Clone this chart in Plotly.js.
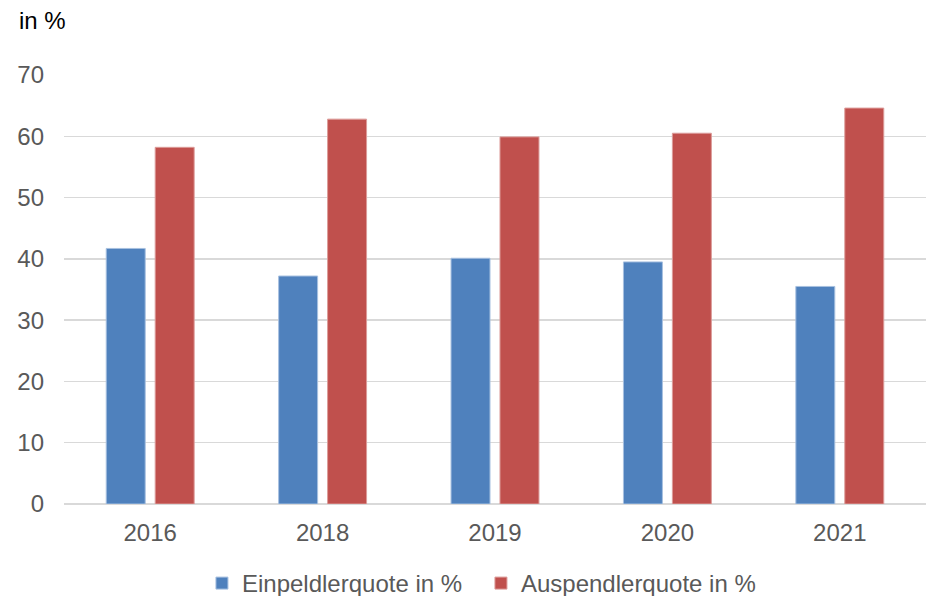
<!DOCTYPE html>
<html><head><meta charset="utf-8">
<script src="https://cdn.plot.ly/plotly-3.0.1.min.js"></script>
<style>body{margin:0;background:#fff}#c{width:926px;height:596px}</style>
</head><body><div id="c"></div>
<script>
const years = ['2016','2018','2019','2020','2021'];
const einpendler = [41.7, 37.2, 40.1, 39.5, 35.5];
const auspendler = [58.2, 62.8, 59.9, 60.5, 64.6];
const yTicks = [0,10,20,30,40,50,60,70];

const font = {family:'Liberation Sans, Arial, sans-serif', size:24, color:'#595959'};
const traces = [
  {type:'bar', x:years, y:einpendler, name:'Einpeldlerquote in %',
   marker:{color:'#4F81BD', line:{color:'#a7c0e0', width:1}}},
  {type:'bar', x:years, y:auspendler, name:'Auspendlerquote in %',
   marker:{color:'#C0504D', line:{color:'#dc9c9a', width:1}}}
];
const layout = {
  width:926, height:596,
  margin:{l:64, r:0, t:75, b:92, autoexpand:false},
  paper_bgcolor:'#fff', plot_bgcolor:'#fff',
  font:font,
  barmode:'group', bargap:0.432, bargroupgap:0.204,
  showlegend:true,
  legend:{orientation:'h', x:0.4837, xanchor:'center', yref:'container', y:0.021, yanchor:'middle', font:font,
          itemwidth:30, traceorder:'normal', entrywidth:234, entrywidthmode:'pixels'},
  xaxis:{type:'category', showgrid:false, showline:false, zeroline:false, ticks:'', tickfont:font, ticklabelstandoff:12, automargin:false},
  yaxis:{range:[0,70], tickvals:yTicks, showgrid:true, gridcolor:'#d9d9d9', gridwidth:1.5, automargin:false,
         zeroline:true, zerolinecolor:'#d9d9d9', zerolinewidth:1.5, showline:false, ticks:'', tickfont:font, ticklabelstandoff:19},
  annotations:[{text:'in %', xref:'paper', yref:'paper', x:-0.055, y:1.128, xanchor:'left', yanchor:'middle', showarrow:false,
    font:{family:'Liberation Sans, Arial, sans-serif', size:24, color:'#000'}}]
};
Plotly.newPlot('c', traces, layout, {displayModeBar:false, staticPlot:true});
</script></body></html>
